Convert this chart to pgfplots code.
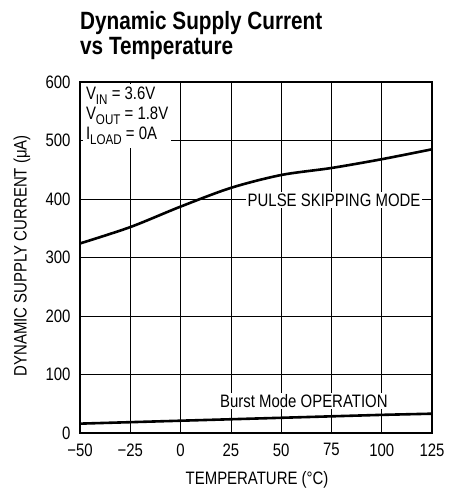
\documentclass[border=0pt]{standalone}
\usepackage{fontspec}
\setmainfont{Liberation Sans}[FakeStretch=0.83]
\usepackage{pgfplots}
\pgfplotsset{compat=1.18}
\newcommand{\sub}[1]{\raisebox{-0.28em}{\fontsize{14}{14}\selectfont #1}}
\begin{document}
\begin{tikzpicture}[x=1pt,y=1pt]
\path[use as bounding box] (0,0) rectangle (448,490);
\node[anchor=base west, inner sep=0pt, font=\fontsize{25}{26}\selectfont\bfseries] at (80,460) {Dynamic Supply Current};
\node[anchor=base west, inner sep=0pt, font=\fontsize{25}{26}\selectfont\bfseries] at (80,435) {vs Temperature};
\begin{axis}[
  at={(80pt,57pt)}, anchor=south west,
  scale only axis, width=352pt, height=351pt,
  xmin=-50, xmax=125, ymin=0, ymax=600,
  xtick={-50,-25,0,25,50,75,100,125},
  xticklabels={−50,−25,0,25,50,75,100,125},
  ytick={0,100,200,300,400,500,600},
  yticklabels={0,100,200,300,400,500,600},
  grid=major,
  major grid style={black, line width=0.7pt},
  axis line style={line width=1.3pt},
  major tick length=0pt,
  tick style={draw=none},
  ticklabel style={font=\fontsize{18}{18}\selectfont},
  xticklabel style={yshift=-7pt},
  yticklabel style={xshift=-6pt},
  xlabel={TEMPERATURE (°C)},
  ylabel={DYNAMIC SUPPLY CURRENT (μA)},
  label style={font=\fontsize{18}{18}\selectfont},
  xlabel style={at={(axis description cs:0.503,-0.133)}, anchor=center},
  ylabel style={at={(axis description cs:-0.165,0.505)}, anchor=center},
]
\addplot[black, line width=2.6pt, smooth, tension=0.5] coordinates {
  (-50,324) (-25,352) (0,387) (25,419) (50,441) (75,453) (100,468) (125,485)};
\addplot[black, line width=2.6pt] coordinates {
  (-50,16) (0,21) (50,26) (100,31) (125,33)};
\node[fill=white, inner sep=1.5pt, font=\fontsize{18}{18}\selectfont] at (axis cs:61.3,55) {Burst Mode OPERATION};
\node[fill=white, inner sep=1.5pt, font=\fontsize{18}{18}\selectfont] at (axis cs:76.3,398) {PULSE SKIPPING MODE};
\node[fill=white, anchor=north west, align=left, inner sep=3pt, font=\fontsize{18}{20}\selectfont] at (axis cs:-48.6,597) {V\sub{IN} = 3.6V\\V\sub{OUT} = 1.8V\\I\sub{LOAD} = 0A};
\end{axis}
\end{tikzpicture}
\end{document}
